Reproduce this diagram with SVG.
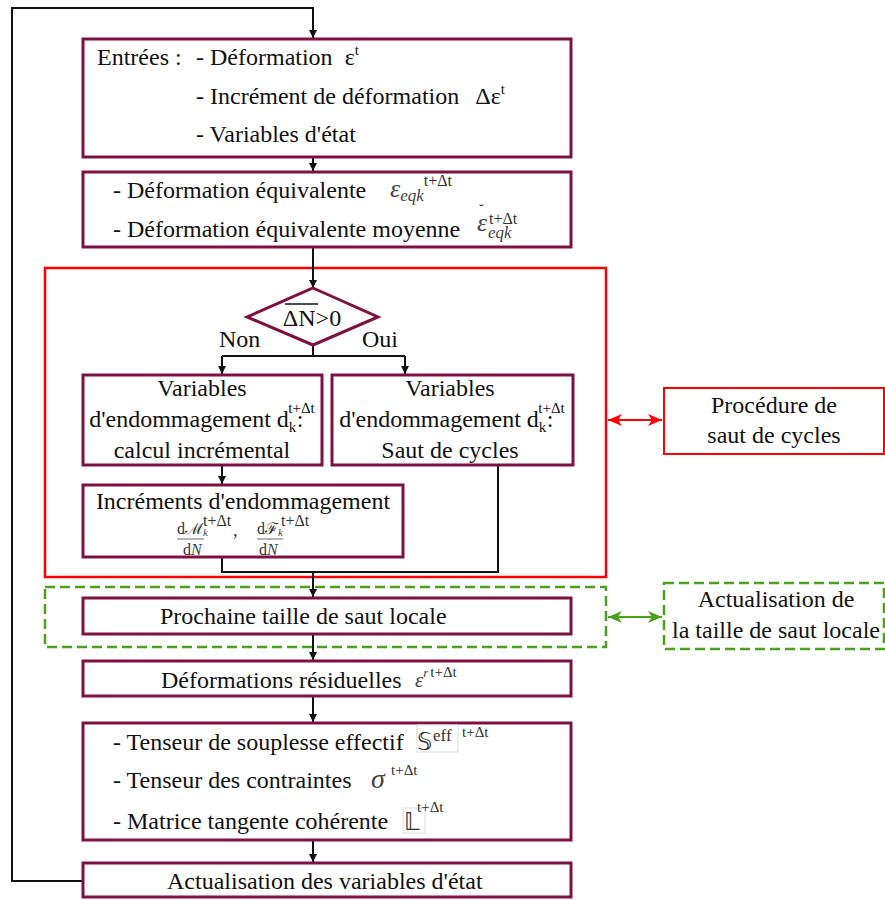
<svg xmlns="http://www.w3.org/2000/svg" width="885" height="900" viewBox="0 0 885 900">
<style>
.box{fill:#fff;stroke:#7d1242;stroke-width:3}
.t{font-family:"Liberation Serif",serif;font-size:24px;fill:#111}
.c{text-anchor:middle}
.m{font-family:"Liberation Serif",serif;font-style:italic;fill:#444}
.u{font-family:"Liberation Serif",serif;fill:#333}
.s{font-size:15px}
.ln{fill:none;stroke:#111;stroke-width:2}
.faint{fill:none;stroke:#ddd;stroke-width:1}
</style>
<defs>
<marker id="ar" markerWidth="8" markerHeight="8" refX="8" refY="4" orient="auto" markerUnits="userSpaceOnUse"><path d="M0,0 L8,4 L0,8 z" fill="#111"/></marker>
<marker id="rr" markerWidth="14" markerHeight="12" refX="14" refY="6" orient="auto-start-reverse" markerUnits="userSpaceOnUse"><path d="M0,0 L14,6 L0,12 L4,6 z" fill="#f00"/></marker>
<marker id="gg" markerWidth="14" markerHeight="12" refX="14" refY="6" orient="auto-start-reverse" markerUnits="userSpaceOnUse"><path d="M0,0 L14,6 L0,12 L4,6 z" fill="#4ba21a"/></marker>
</defs>

<g id="groups">
<rect x="45" y="268" width="561" height="309" fill="none" stroke="#f00" stroke-width="2.5"/>
<rect x="45" y="587" width="561" height="60" fill="none" stroke="#4ba21a" stroke-width="2.5" stroke-dasharray="10,5"/>
</g>

<g id="connectors">
<path class="ln" d="M83,881 H12 V8 H313 V38" marker-end="url(#ar)"/>
<path class="ln" d="M313,157 V171" marker-end="url(#ar)"/>
<path class="ln" d="M313,247 V288" marker-end="url(#ar)"/>
<path class="ln" d="M313,345 V356 M222,356 H405"/>
<path class="ln" d="M222,356 V374" marker-end="url(#ar)"/>
<path class="ln" d="M405,356 V374" marker-end="url(#ar)"/>
<path class="ln" d="M222,465 V484" marker-end="url(#ar)"/>
<path class="ln" d="M222,557 V572 H498 V465"/>
<path class="ln" d="M313,572 V597" marker-end="url(#ar)"/>
<path class="ln" d="M313,634 V660" marker-end="url(#ar)"/>
<path class="ln" d="M313,696 V722" marker-end="url(#ar)"/>
<path class="ln" d="M313,840 V862" marker-end="url(#ar)"/>
<path d="M608,420 H662" stroke="#f00" stroke-width="2" marker-start="url(#rr)" marker-end="url(#rr)"/>
<path d="M608,617 H662" stroke="#4ba21a" stroke-width="2" marker-start="url(#gg)" marker-end="url(#gg)"/>
</g>

<g id="entrees">
<rect class="box" x="83" y="39" width="488" height="118"/>
<text class="t" x="97" y="65">Entrées :</text>
<text class="t" x="196" y="65">- Déformation <tspan dx="6">ε</tspan><tspan class="s" dy="-10">t</tspan></text>
<text class="t" x="196" y="104">- Incrément de déformation <tspan dx="10">Δε</tspan><tspan class="s" dy="-10">t</tspan></text>
<text class="t" x="196" y="142">- Variables d'état</text>
</g>

<g id="equiv">
<rect class="box" x="83" y="172" width="488" height="75"/>
<text class="t" x="113" y="198">- Déformation équivalente</text>
<text class="m" x="390" y="197" font-size="26">ε<tspan font-size="17" dy="4">eqk</tspan><tspan class="u" font-style="normal" font-size="16" dy="-15">t+Δt</tspan></text>
<text class="t" x="113" y="237">- Déformation équivalente moyenne</text>
<text class="m" x="477" y="231" font-size="26">ε<tspan class="u" font-style="normal" font-size="14" x="479" y="214">˘</tspan><tspan class="u" font-style="normal" font-size="16" x="489" y="224">t+Δt</tspan><tspan font-size="17" x="488" y="238">eqk</tspan></text>
</g>

<g id="decision">
<polygon points="313,288 378,317 313,345 247,317" fill="#fff" stroke="#7d1242" stroke-width="3"/>
<text class="t c" x="312" y="326">ΔN&gt;0</text>
<line x1="285" y1="304" x2="318" y2="304" stroke="#111" stroke-width="1.5"/>
<text class="t" x="219" y="347">Non</text>
<text class="t" x="362" y="347">Oui</text>
</g>

<g id="incremental">
<rect class="box" x="83" y="375" width="239" height="90"/>
<text class="t c" x="202" y="396">Variables</text>
<text class="t c" x="202" y="427">d'endommagement d<tspan class="s" dy="5">k</tspan><tspan class="s" dx="-8" dy="-19">t+Δt</tspan><tspan dx="-18" dy="14">:</tspan></text>
<text class="t c" x="202" y="458">calcul incrémental</text>
</g>

<g id="saut">
<rect class="box" x="332" y="375" width="241" height="90"/>
<text class="t c" x="450" y="396">Variables</text>
<text class="t c" x="452" y="427">d'endommagement d<tspan class="s" dy="5">k</tspan><tspan class="s" dx="-8" dy="-19">t+Δt</tspan><tspan dx="-18" dy="14">:</tspan></text>
<text class="t c" x="450" y="458">Saut de cycles</text>
</g>

<g id="increments">
<rect class="box" x="83" y="485" width="320" height="72"/>
<text class="t c" x="243" y="509">Incréments d'endommagement</text>
<text class="u" x="177" y="534" font-size="16">dℳ<tspan class="m" font-size="11" dy="2">k</tspan><tspan font-size="16" x="203" y="526">t+Δt</tspan><tspan font-size="18" x="233" y="536">,</tspan><tspan x="257" y="534">dℱ</tspan><tspan class="m" font-size="11" dy="2">k</tspan><tspan font-size="16" x="281" y="526">t+Δt</tspan></text>
<line x1="177" y1="539" x2="204" y2="539" stroke="#444" stroke-width="0.8"/>
<line x1="257" y1="539" x2="283" y2="539" stroke="#444" stroke-width="0.8"/>
<text class="u" x="183" y="555" font-size="16">d<tspan class="m">N</tspan><tspan x="259">d</tspan><tspan class="m">N</tspan></text>
</g>

<g id="prochaine">
<rect class="box" x="83" y="598" width="488" height="36"/>
<text class="t" x="160" y="624">Prochaine taille de saut locale</text>
</g>

<g id="residuelles">
<rect class="box" x="83" y="661" width="488" height="35"/>
<text class="t" x="161" y="688">Déformations résiduelles</text>
<text class="m" x="415" y="687" font-size="21">ε<tspan font-size="13" dy="-10">r</tspan><tspan class="u" font-style="normal" font-size="15" dx="2">t+Δt</tspan></text>
</g>

<g id="tenseurs">
<rect class="box" x="83" y="723" width="488" height="117"/>
<text class="t" x="113" y="750">- Tenseur de souplesse effectif</text>
<rect class="faint" x="417" y="725" width="41" height="27"/>
<text x="417" y="750" font-family="DejaVu Sans,sans-serif" font-size="24" fill="#333">𝕊</text>
<text class="u" x="433" y="741" font-size="17">eff</text>
<text class="u" x="462" y="737" font-size="15">t+Δt</text>
<text class="t" x="113" y="788">- Tenseur des contraintes</text>
<text class="m" x="371" y="788" font-size="28" fill="#222">σ</text>
<text class="u" x="391" y="775" font-size="15">t+Δt</text>
<text class="t" x="113" y="829">- Matrice tangente cohérente</text>
<rect class="faint" x="403" y="808" width="22" height="25"/>
<text x="404" y="830" font-family="DejaVu Sans,sans-serif" font-size="24" fill="#333">𝕃</text>
<text class="u" x="417" y="812" font-size="15">t+Δt</text>
</g>

<g id="actualisation">
<rect class="box" x="83" y="863" width="488" height="34"/>
<text class="t" x="167" y="889">Actualisation des variables d'état</text>
</g>

<g id="procedure">
<rect x="664" y="388" width="220" height="66" fill="#fff" stroke="#f00" stroke-width="2"/>
<text class="t c" x="774" y="413">Procédure de</text>
<text class="t c" x="774" y="443">saut de cycles</text>
</g>

<g id="actualisation-taille">
<rect x="664" y="583" width="220" height="66" fill="#fff" stroke="#4ba21a" stroke-width="2.5" stroke-dasharray="10,5"/>
<text class="t c" x="776" y="607">Actualisation de</text>
<text class="t c" x="776" y="638">la taille de saut locale</text>
</g>
</svg>
